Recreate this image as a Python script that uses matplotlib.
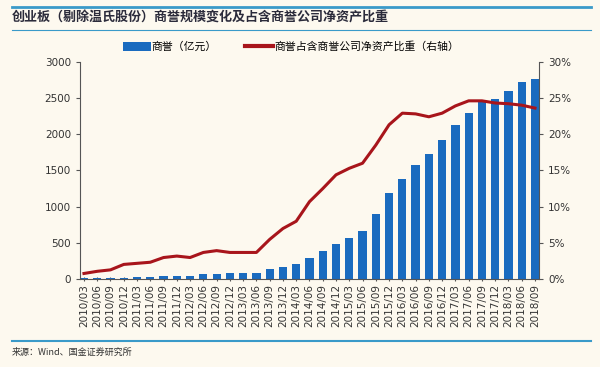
import numpy as np
import matplotlib
matplotlib.use("Agg")
import matplotlib.pyplot as plt
from matplotlib.lines import Line2D
from matplotlib.patches import Patch

plt.rcParams['font.family'] = ['Noto Sans CJK SC', 'DejaVu Sans']

# quarterly data
quarters = ["2010/03", "2010/06", "2010/09", "2010/12",
            "2011/03", "2011/06", "2011/09", "2011/12",
            "2012/03", "2012/06", "2012/09", "2012/12",
            "2013/03", "2013/06", "2013/09", "2013/12",
            "2014/03", "2014/06", "2014/09", "2014/12",
            "2015/03", "2015/06", "2015/09", "2015/12",
            "2016/03", "2016/06", "2016/09", "2016/12",
            "2017/03", "2017/06", "2017/09", "2017/12",
            "2018/03", "2018/06", "2018/09"]
goodwill = [15, 18, 20, 22, 30, 35, 45, 50, 50, 70, 75, 85,
            88, 90, 145, 172, 212, 295, 385, 487, 575, 667, 897, 1195,
            1384, 1577, 1729, 1917, 2128, 2298, 2473, 2487, 2593, 2717, 2767]
ratio = [0.8, 1.1, 1.3, 2.05, 2.2, 2.35, 3.0, 3.2, 3.0, 3.7, 3.95, 3.7,
         3.7, 3.7, 5.5, 7.0, 8.0, 10.7, 12.5, 14.4, 15.3, 16.0, 18.5, 21.3,
         22.9, 22.8, 22.4, 22.9, 23.9, 24.6, 24.6, 24.3, 24.2, 24.0, 23.6]

bg = "#FDF9EF"
bar_color = "#1A6BBF"
line_color = "#A8151B"
rule_color = "#3A9AC9"
text_color = "#333333"

fig = plt.figure(figsize=(6, 3.67), dpi=100, facecolor=bg)
ax = fig.add_axes([0.1333, 0.239, 0.765, 0.593])
ax.set_facecolor(bg)

x = np.arange(len(quarters))
ax.bar(x, goodwill, width=0.62, color=bar_color, zorder=2)
ax.set_ylim(0, 3000)
ax.set_yticks(np.arange(0, 3001, 500))
ax.set_xlim(-0.3, len(quarters) - 0.7)
ax.set_xticks(x)
ax.set_xticklabels(quarters, rotation=90, fontsize=7.5, color=text_color,
                   family='DejaVu Sans')
ax.tick_params(axis='y', labelsize=7.5, labelcolor=text_color, length=3,
               color="#555555")
ax.tick_params(axis='x', length=3, direction='inout', color="#555555", pad=2)
for lab in ax.get_yticklabels():
    lab.set_family('DejaVu Sans')
for s in ['top', 'right']:
    ax.spines[s].set_visible(False)
ax.spines['left'].set_color("#555555")
ax.spines['bottom'].set_color("#555555")

ax2 = ax.twinx()
ax2.plot(x, ratio, color=line_color, lw=2.2, zorder=3)
ax2.set_ylim(0, 30)
ax2.set_yticks(np.arange(0, 31, 5))
ax2.set_yticklabels([f"{v}%" for v in range(0, 31, 5)], fontsize=7.5,
                    color=text_color, family='DejaVu Sans')
ax2.tick_params(axis='y', length=3, color="#555555")
for s in ['top', 'left', 'bottom']:
    ax2.spines[s].set_visible(False)
ax2.spines['right'].set_color("#555555")

# legend
handles = [Patch(facecolor=bar_color, label="商誉（亿元）"),
           Line2D([0], [0], color=line_color, lw=3,
                  label="商誉占含商誉公司净资产比重（右轴）")]
fig.legend(handles=handles, loc='center', bbox_to_anchor=(0.485, 0.872),
           ncol=2, frameon=False, fontsize=7.8, handlelength=2.6,
           handletextpad=0.1, columnspacing=2.6, handleheight=0.9)

# title and rules
fig.add_artist(Line2D([0.02, 0.985], [0.981, 0.981], color=rule_color, lw=2))
fig.text(0.02, 0.953, "创业板（剔除温氏股份）商誉规模变化及占含商誉公司净资产比重",
         fontsize=9.4, fontweight='bold', color="#2B2B3B", va='center')
fig.add_artist(Line2D([0.02, 0.985], [0.918, 0.918], color=rule_color, lw=0.8))
fig.add_artist(Line2D([0.02, 0.985], [0.07, 0.07], color=rule_color, lw=1.5))
fig.text(0.02, 0.04, "来源：Wind、国金证券研究所", fontsize=6.5, color=text_color,
         va='center')

fig.savefig("out.png", dpi=100, facecolor=bg)
